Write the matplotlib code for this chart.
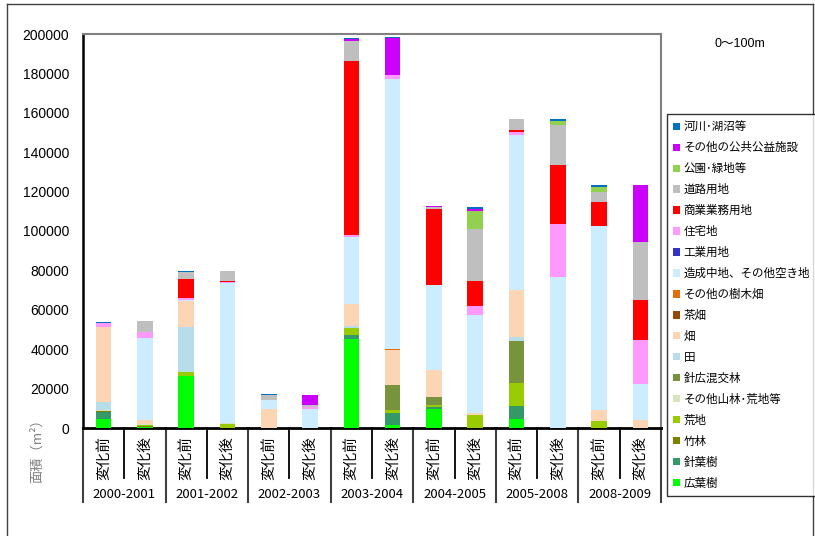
import matplotlib
matplotlib.use("Agg")
import matplotlib.pyplot as plt
from matplotlib.lines import Line2D
from matplotlib.patches import Patch
import numpy as np

plt.rcParams['font.family'] = ['Noto Sans CJK JP', 'DejaVu Sans']

periods = ['2000-2001', '2001-2002', '2002-2003', '2003-2004',
           '2004-2005', '2005-2008', '2008-2009']
states = ['変化前', '変化後']

# land use areas (m2), stacked bottom to top; 2 bars per period
broadleaf   = [4700, 300, 26200, 0, 0, 0, 45100, 1700, 9600, 0, 4600, 0, 0, 0]
conifer     = [3200, 300, 0, 0, 0, 0, 2200, 5900, 1000, 0, 6400, 0, 0, 0]
bamboo      = [500, 300, 0, 0, 0, 0, 0, 0, 0, 0, 0, 0, 0, 0]
wasteland   = [300, 600, 2400, 2000, 0, 0, 3500, 1700, 1200, 6800, 11800, 0, 3400, 0]
other_for   = [300, 300, 0, 500, 0, 0, 0, 0, 0, 0, 0, 0, 0, 0]
mixed_for   = [0, 0, 0, 0, 0, 0, 0, 12700, 4100, 0, 21500, 0, 0, 0]
paddy       = [4200, 0, 22500, 0, 0, 0, 1000, 0, 0, 0, 1900, 0, 0, 0]
field       = [38200, 2500, 13200, 0, 9800, 0, 11200, 17400, 13400, 850, 24000, 0, 5900, 3900]
tea         = [0] * 14
orchard     = [0, 0, 0, 0, 0, 0, 0, 800, 0, 0, 0, 0, 0, 0]
vacant      = [0, 41300, 800, 71200, 4600, 9600, 34200, 137000, 43500, 49900, 78600, 76400, 93000, 18600]
industrial  = [0] * 14
residential = [1700, 2900, 700, 500, 0, 1000, 800, 2000, 0, 4200, 1700, 27100, 300, 22000]
commercial  = [0, 0, 10000, 500, 0, 0, 88300, 0, 38500, 12700, 850, 30100, 12300, 20300]
road        = [0, 5600, 3200, 4900, 2200, 1200, 10300, 0, 800, 26500, 5400, 20300, 5100, 29600]
park        = [0, 0, 0, 0, 0, 0, 0, 0, 0, 9300, 0, 2000, 2200, 0]
public      = [0, 0, 0, 0, 0, 4700, 700, 18600, 700, 800, 0, 0, 0, 29100]
river       = [500, 0, 700, 0, 700, 500, 500, 700, 0, 1000, 0, 850, 1200, 0]

series = [
    ('広葉樹', broadleaf, '#00FF00'),
    ('針葉樹', conifer, '#339966'),
    ('竹林', bamboo, '#808000'),
    ('荒地', wasteland, '#99CC00'),
    ('その他山林･荒地等', other_for, '#D7E4BD'),
    ('針広混交林', mixed_for, '#77933C'),
    ('田', paddy, '#B7DEE8'),
    ('畑', field, '#FCD5B5'),
    ('茶畑', tea, '#974706'),
    ('その他の樹木畑', orchard, '#E46C0A'),
    ('造成中地、その他空き地', vacant, '#CCECFF'),
    ('工業用地', industrial, '#3333CC'),
    ('住宅地', residential, '#FF99FF'),
    ('商業業務用地', commercial, '#FF0000'),
    ('道路用地', road, '#BFBFBF'),
    ('公園･緑地等', park, '#92D050'),
    ('その他の公共公益施設', public, '#CC00FF'),
    ('河川･湖沼等', river, '#0070C0'),
]

fig = plt.figure(figsize=(8.15, 5.36), dpi=100)
ax = fig.add_axes([83 / 815, 1 - 428 / 536, 578 / 815, 394 / 536])

x = np.arange(14)
bottom = np.zeros(14)
for name, vals, col in series:
    v = np.array(vals, dtype=float)
    ax.bar(x, v, 0.38, bottom=bottom, color=col, linewidth=0, zorder=3)
    bottom += v

ax.set_xlim(-0.5, 13.5)
ax.set_ylim(0, 200000)
ax.set_yticks(np.arange(0, 200001, 20000))
ax.set_yticklabels([str(v) for v in range(0, 200001, 20000)],
                   family='Liberation Sans', fontsize=10)
ax.tick_params(axis='y', length=0, pad=10)
ax.set_xticks([])
ax.set_yticks(np.arange(20000, 180001, 20000), minor=True)
ax.yaxis.grid(True, which='minor', color='#202020', linewidth=1.0, zorder=1)
ax.set_axisbelow(True)

for s in ['top', 'right']:
    ax.spines[s].set_color('#808080')
    ax.spines[s].set_linewidth(1.5)
ax.spines['left'].set_linewidth(1.8)
ax.spines['bottom'].set_linewidth(2.0)
ax.tick_params(axis='y', which='minor', length=0)

# category separators and labels below the axis
trans = ax.get_xaxis_transform()
for i in range(15):
    xs = i - 0.5
    if i % 2 == 0:
        ax.plot([xs, xs], [0, -0.188], color='#404040', lw=1.5,
                transform=trans, clip_on=False)
    else:
        ax.plot([xs, xs], [0, -0.127], color='black', lw=1.3,
                transform=trans, clip_on=False)
for i in range(14):
    ax.text(i, -0.076, states[i % 2], rotation=90, ha='center', va='center',
            fontsize=10.5, transform=trans)
for j, p in enumerate(periods):
    ax.text(2 * j + 0.5, -0.17, p, ha='center', va='center', fontsize=9.5,
            transform=trans)

fig.text(37 / 815, 1 - 448 / 536, '面積（m²）', rotation=90, ha='center',
         va='center', fontsize=9.5, color='#808080')
fig.text(740 / 815, 1 - 44 / 536, '0〜100m', ha='center', va='center',
         fontsize=9, family=['Liberation Sans', 'Noto Sans CJK JP'])

handles = [Patch(facecolor=col, edgecolor='none', label=name)
           for name, vals, col in series[::-1]]
leg = fig.legend(handles=handles, loc='upper left',
                 bbox_to_anchor=(667 / 815, 1 - 114 / 536),
                 fontsize=8.3, frameon=True, fancybox=False,
                 handlelength=0.6, handleheight=0.6, handletextpad=0.3,
                 labelspacing=0.69, borderpad=0.55, borderaxespad=0)
leg.get_frame().set_edgecolor('black')
leg.get_frame().set_linewidth(1.0)

# outer chart frame
for xs, ys in [([7, 7], [4, 540]), ([7, 813], [4, 4]), ([813, 813], [4, 540])]:
    fig.add_artist(Line2D([v / 815 for v in xs], [1 - v / 536 for v in ys],
                          color='#404040', lw=1.0))

fig.savefig('out.png', dpi=100)
